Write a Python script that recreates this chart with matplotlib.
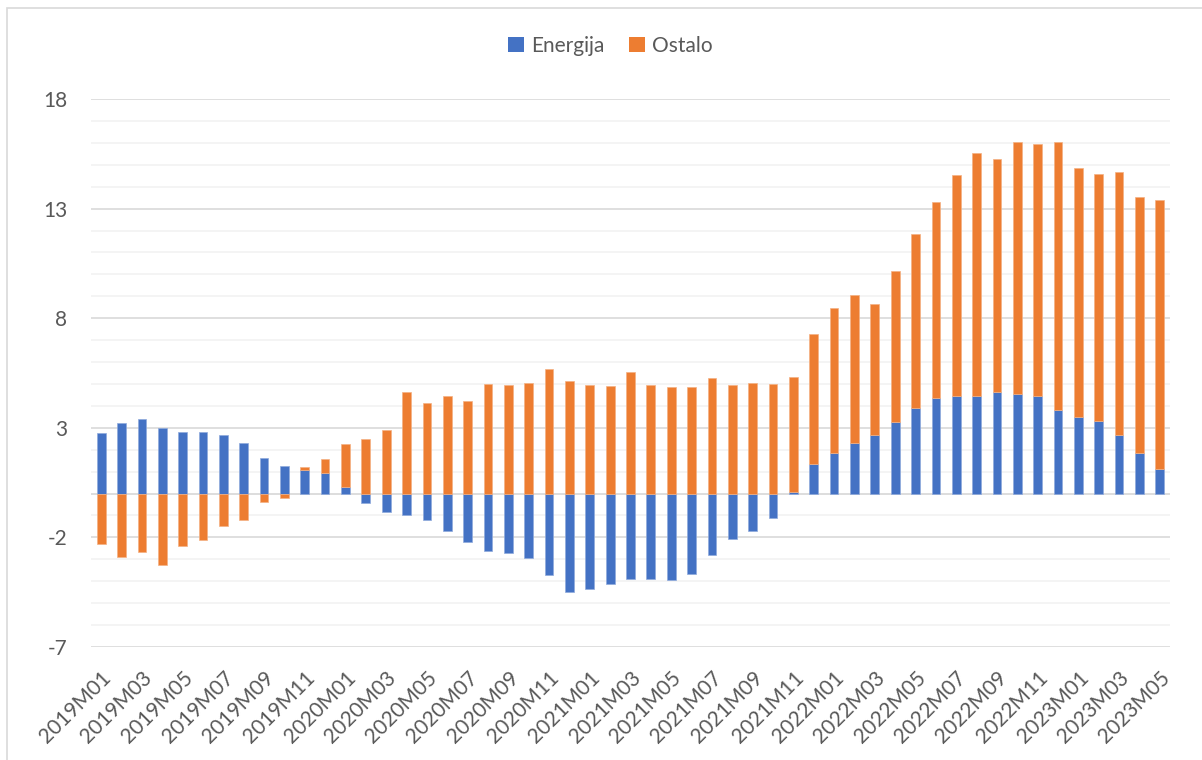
import numpy as np
import matplotlib
matplotlib.use("Agg")
import matplotlib.pyplot as plt
from matplotlib.patches import Rectangle, Patch

# ------------------------------
# Data
# ------------------------------
months = [f"{y}M{m:02d}" for y in range(2019, 2024) for m in range(1, 13)][:53]

energija = [2.74, 3.24, 3.40, 3.00, 2.80, 2.82, 2.65, 2.29, 1.60, 1.24,
            1.07, 0.92, 0.28, -0.42, -0.84, -0.98, -1.19, -1.70, -2.23, -2.61,
            -2.72, -2.94, -3.73, -4.48, -4.37, -4.12, -3.88, -3.90, -3.93, -3.67,
            -2.82, -2.06, -1.72, -1.10, 0.07, 1.37, 1.87, 2.31, 2.68, 3.28,
            3.91, 4.37, 4.46, 4.46, 4.64, 4.56, 4.46, 3.79, 3.47, 3.33,
            2.68, 1.85, 1.13]

ostalo = [-2.30, -2.91, -2.65, -3.27, -2.39, -2.12, -1.48, -1.22, -0.38, -0.22,
          0.14, 0.67, 1.99, 2.49, 2.91, 4.64, 4.14, 4.46, 4.23, 5.00,
          4.93, 5.05, 5.70, 5.13, 4.97, 4.91, 5.55, 4.97, 4.84, 4.87,
          5.26, 4.93, 5.06, 5.00, 5.24, 5.90, 6.58, 6.75, 5.95, 6.86,
          7.92, 8.92, 10.07, 11.09, 10.64, 11.46, 11.47, 12.25, 11.38, 11.25,
          12.00, 11.66, 12.24]

series_names = ["Energija", "Ostalo"]
colors = {"Energija": "#4472C4", "Ostalo": "#ED7D31"}

# ------------------------------
# Stack positives and negatives separately (like Excel)
# ------------------------------
e = np.array(energija)
o = np.array(ostalo)
o_bottom = np.where(o >= 0, np.maximum(e, 0), np.minimum(e, 0))

plt.rcParams['font.family'] = ['Lato', 'DejaVu Sans']
plt.rcParams['axes.unicode_minus'] = False

fig = plt.figure(figsize=(12.02, 7.6), dpi=100)
ax = fig.add_axes([91 / 1202, 1 - 647 / 760, (1170 - 91) / 1202, (647 - 99) / 760])

x = np.arange(len(months))
width = 0.43
ax.bar(x, e, width=width, color=colors["Energija"], edgecolor="#8FAADC",
       linewidth=0.5, zorder=3)
ax.bar(x, o, width=width, bottom=o_bottom, color=colors["Ostalo"],
       edgecolor="#F4B183", linewidth=0.5, zorder=3)

# Axes, grid
ax.set_xlim(-0.5, len(months) - 0.5)
ax.set_ylim(-7, 18)
ax.set_yticks(np.arange(-7, 19, 5))
ax.set_yticks(np.arange(-7, 19, 1), minor=True)
ax.grid(axis="y", which="major", color="#D9D9D9", linewidth=1.2, zorder=0)
ax.grid(axis="y", which="minor", color="#F2F2F2", linewidth=1.2, zorder=0)
ax.axhline(0, color="#D9D9D9", linewidth=1.2, zorder=2)

for s in ax.spines.values():
    s.set_visible(False)

ax.set_xticks(x[::2])
ax.set_xticklabels(months[::2], rotation=45, ha="right", rotation_mode="anchor")
ax.tick_params(axis="x", length=0, pad=15, labelsize=15, labelcolor="#595959")
ax.tick_params(axis="y", which="both", length=0, pad=17, labelsize=15,
               labelcolor="#595959")

# Legend
handles = [Patch(facecolor=colors[n], edgecolor="none", label=n) for n in series_names]
fig.legend(handles=handles, loc="center", bbox_to_anchor=(0.508, 1 - 46 / 760),
           ncol=2, frameon=False, fontsize=15, handlelength=0.75, handleheight=0.75,
           handletextpad=0.35, columnspacing=1.2, labelcolor="#595959")

# Chart border
fig.patches.append(Rectangle((7 / 1202, -0.05), 1.1, 1 - 8 / 760 + 0.05,
                             transform=fig.transFigure, fill=False,
                             edgecolor="#D9D9D9", linewidth=1.2))

fig.savefig("out.png", dpi=100)
